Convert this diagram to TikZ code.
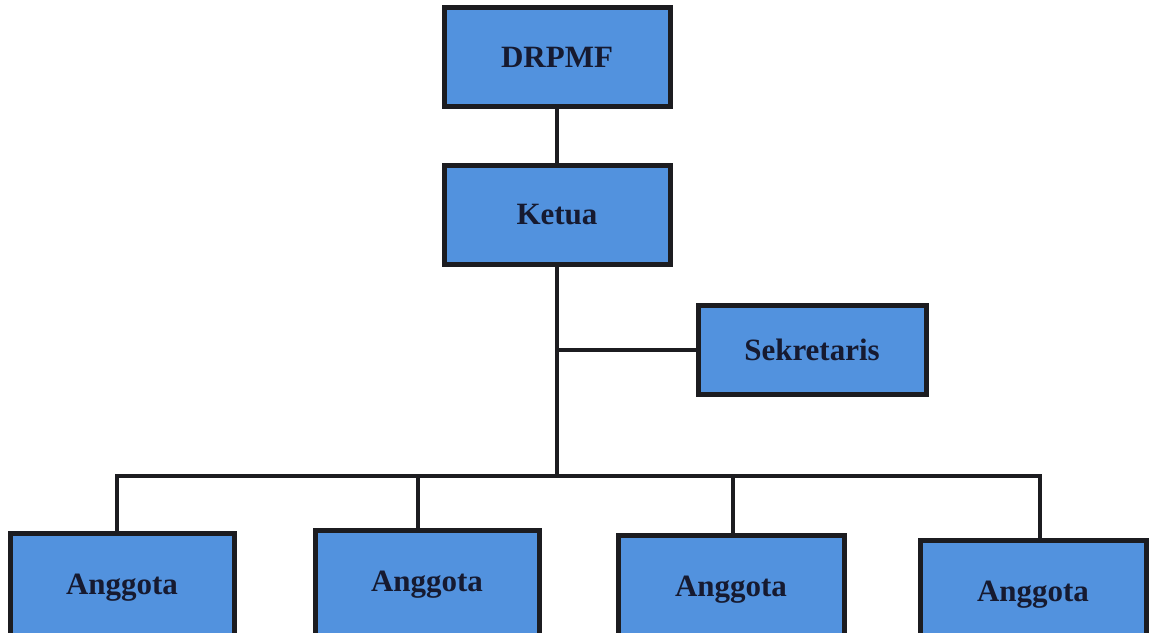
\documentclass[tikz,border=0pt]{standalone}
\usepackage{fontspec}
\setmainfont{Liberation Serif}
\definecolor{boxblue}{RGB}{82,146,222}
\definecolor{edge}{RGB}{28,28,32}
\definecolor{txt}{RGB}{22,26,48}
\begin{document}
\begin{tikzpicture}[x=1pt,y=-1pt,
  orgbox/.style={draw=edge,line width=5pt,fill=boxblue,rectangle,inner sep=0pt,
    font=\fontsize{31}{36}\selectfont\bfseries,text=txt},
  link/.style={draw=edge,line width=4.5pt,line join=miter}]
\useasboundingbox (0,0) rectangle (1151,632);
\fill[white] (0,0) rectangle (1151,632);
\node[orgbox,minimum width=226pt,minimum height=99pt] (drpmf) at (557,57) {DRPMF};
\node[orgbox,minimum width=226pt,minimum height=99pt] (ketua) at (557,215) {Ketua};
\node[orgbox,minimum width=228pt,minimum height=89pt] (sek) at (812,350) {Sekretaris};
\node[orgbox,minimum width=224pt,minimum height=110pt] (a1) at (122,588) {Anggota};
\node[orgbox,minimum width=224pt,minimum height=110pt] (a2) at (427,585) {Anggota};
\node[orgbox,minimum width=226pt,minimum height=110pt] (a3) at (731,590) {Anggota};
\node[orgbox,minimum width=226pt,minimum height=110pt] (a4) at (1033,595) {Anggota};
\coordinate (bus) at (557,476);
\coordinate (sj) at (557,350);
\coordinate (bl) at (117,476);
\coordinate (br) at (1040,476);
\draw[link] (drpmf.south) -- (ketua.north);
\draw[link] (ketua.south) -- (bus);
\draw[link] (sj) -- (sek.west);
\draw[link] (a1.north -| bl) -- (bl) -- (br) -- (a4.north -| br);
\draw[link] (418,476) -- (a2.north -| 418,0);
\draw[link] (733,476) -- (a3.north -| 733,0);
\end{tikzpicture}
\end{document}
